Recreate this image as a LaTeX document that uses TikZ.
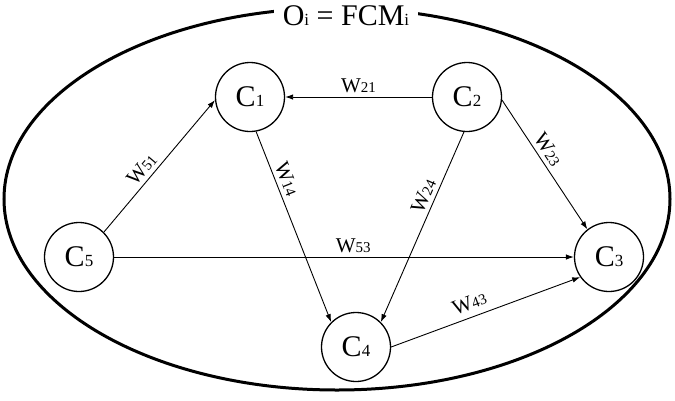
\documentclass[tikz,border=0pt]{standalone}
\usepackage{fontspec}
\setmainfont{Liberation Serif}
\usetikzlibrary{arrows.meta}
\newcommand{\subsm}[1]{{\fontsize{17}{17}\selectfont #1}}
\newcommand{\wlab}[1]{W{\fontsize{15}{15}\selectfont #1}}
\tikzset{
  concept/.style={circle, draw, line width=1.3pt, minimum size=69pt, inner sep=0pt, font=\fontsize{30}{30}\selectfont},
  link/.style={line width=0.9pt, -{Latex[length=8pt,width=5.5pt]}},
  wl/.style={font=\fontsize{21}{21}\selectfont, inner sep=4pt}
}
\begin{document}
\begin{tikzpicture}[x=1pt,y=-1pt]
\useasboundingbox (0,0) rectangle (675,400);
\draw[line width=3pt] (337,199) ellipse [x radius=333, y radius=191];
\node[fill=white, anchor=base, inner xsep=9pt, inner ysep=4pt, font=\fontsize{30}{30}\selectfont] (title) at (346,25) {O\subsm{i} = FCM\subsm{i}};
\node[concept] (C1) at (250,97) {C\subsm{1}};
\node[concept] (C2) at (467,97) {C\subsm{2}};
\node[concept] (C5) at (79,257) {C\subsm{5}};
\node[concept] (C3) at (609,257) {C\subsm{3}};
\node[concept] (C4) at (356,347) {C\subsm{4}};
\draw[link] (C2.west) -- node[wl, above, pos=0.5] {\wlab{21}} (C1.east);
\draw[link] (C5.45) -- node[wl, above, sloped, pos=0.42] {\wlab{51}} (C1.185);
\draw[link] (C1.-80) -- node[wl, above, sloped, pos=0.27] {\wlab{14}} (C4.135);
\draw[link] (C2.-95) -- node[wl, above, sloped, pos=0.36] {\wlab{24}} (C4.45);
\draw[link] (C2.-5) -- node[wl, above, sloped, pos=0.43] {\wlab{23}} (C3.128);
\draw[link] (C5.east) -- node[wl, above, pos=0.52] {\wlab{53}} (C3.west);
\draw[link] (C4.east) -- node[wl, above, sloped, pos=0.44, inner sep=7pt] {\wlab{43}} (C3.215);
\end{tikzpicture}
\end{document}
